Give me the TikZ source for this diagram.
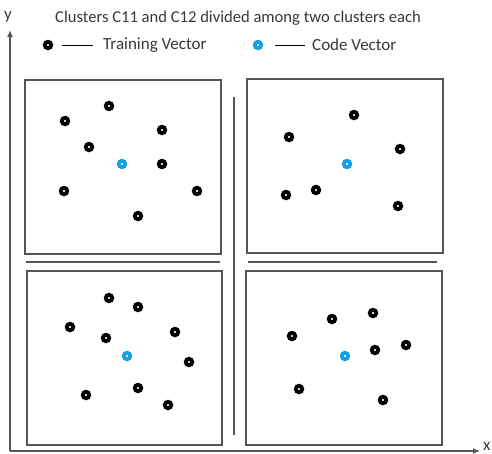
\documentclass[tikz,border=0pt]{standalone}
\usepackage{fontspec}
\setmainfont{Carlito}
\usepackage{tikz}
\usetikzlibrary{arrows.meta}
\usepackage{xcolor}
\definecolor{codeblue}{RGB}{20,160,225}
\definecolor{framegray}{RGB}{85,85,85}
\definecolor{textgray}{RGB}{60,55,50}

\begin{document}
\begin{tikzpicture}[
    x=1pt, y=-1pt,
    train/.style={circle, draw=black, fill=white, line width=3.8pt, inner sep=0pt, minimum size=6.5pt},
    code/.style={circle, draw=codeblue, fill=white, line width=3.8pt, inner sep=0pt, minimum size=6.5pt},
    cell/.style={draw=framegray, line width=1.5pt},
    split/.style={draw=framegray, line width=1.5pt},
    axis/.style={draw=framegray, line width=1.3pt, -{Latex[length=7pt,width=6pt]}},
    label/.style={text=textgray, font=\fontsize{17}{19}\selectfont, inner sep=0pt}
]
    \useasboundingbox (0,0) rectangle (492,453);

    % Axes
    \coordinate (origin) at (10,451);
    \coordinate (ytop) at (10,30);
    \coordinate (xend) at (480,451);
    \draw[axis] (origin) -- (ytop);
    \draw[axis] (origin) -- (xend);
    \node[label] (ylab) at (8,17) {y};
    \node[label, anchor=west] (xlab) at (483,446) {x};

    % Title
    \node[label, font=\fontsize{16.6}{18}\selectfont] (title) at (238,18) {Clusters C11 and C12 divided among two clusters each};

    % Legend
    \node[train] (ltrain) at (48,45) {};
    \node[label, anchor=west] (ltraintext) at (103,45) {Training Vector};
    \draw[line width=0.9pt, black] ([xshift=9pt]ltrain.east) -- ([xshift=-10pt]ltraintext.west);
    \node[code] (lcode) at (258,45) {};
    \node[label, anchor=west] (lcodetext) at (312,45) {Code Vector};
    \draw[line width=0.9pt, black] ([xshift=12pt]lcode.east) -- ([xshift=-7pt]lcodetext.west);

    % Cluster frames
    \draw[cell] (25,80) rectangle (221,254);
    \draw[cell] (247,79) rectangle (443,253);
    \draw[cell] (27,271) rectangle (222,445);
    \draw[cell] (246,271) rectangle (442,445);

    % Dividing lines
    \draw[split] (234,97) -- (234,435);
    \draw[split] (26,262) -- (220,262);
    \draw[split] (248,262) -- (437,262);

    % Top left cluster
    \node[train] (tl1) at (65,121) {};
    \node[train] (tl2) at (109,106) {};
    \node[train] (tl3) at (162,130) {};
    \node[train] (tl4) at (89,147) {};
    \node[code]  (tlc) at (122,164) {};
    \node[train] (tl5) at (162,164) {};
    \node[train] (tl6) at (64,191) {};
    \node[train] (tl7) at (197,191) {};
    \node[train] (tl8) at (138,216) {};

    % Top right cluster
    \node[train] (tr1) at (354,115) {};
    \node[train] (tr2) at (289,137) {};
    \node[train] (tr3) at (400,149) {};
    \node[code]  (trc) at (347,164) {};
    \node[train] (tr4) at (286,195) {};
    \node[train] (tr5) at (316,190) {};
    \node[train] (tr6) at (398,206) {};

    % Bottom left cluster
    \node[train] (bl1) at (109,298) {};
    \node[train] (bl2) at (138,307) {};
    \node[train] (bl3) at (70,327) {};
    \node[train] (bl4) at (175,332) {};
    \node[train] (bl5) at (106,338) {};
    \node[code]  (blc) at (127,356) {};
    \node[train] (bl6) at (189,362) {};
    \node[train] (bl7) at (138,388) {};
    \node[train] (bl8) at (86,395) {};
    \node[train] (bl9) at (168,405) {};

    % Bottom right cluster
    \node[train] (br1) at (332,319) {};
    \node[train] (br2) at (373,313) {};
    \node[train] (br3) at (292,336) {};
    \node[train] (br4) at (406,345) {};
    \node[train] (br5) at (375,350) {};
    \node[code]  (brc) at (345,356) {};
    \node[train] (br6) at (299,389) {};
    \node[train] (br7) at (383,400) {};
\end{tikzpicture}
\end{document}
